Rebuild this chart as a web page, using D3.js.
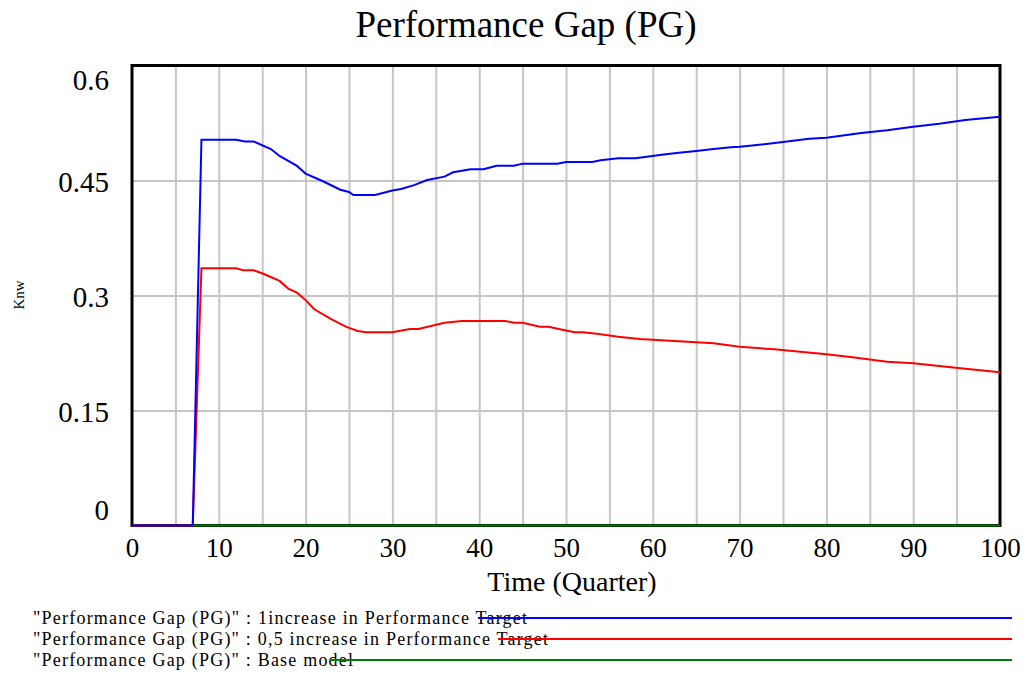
<!DOCTYPE html>
<html>
<head>
<meta charset="utf-8">
<script src="https://cdn.jsdelivr.net/npm/d3@7"></script>
<style>
  body { margin: 0; background: #fff; }
  text { font-family: "Liberation Serif", "Times New Roman", serif; fill: #000; }
</style>
</head>
<body>
<div id="chart"></div>
<script>

// size of the page
var w = 1026;
var h = 675;

// plot area
var plotLeft = 132, plotRight = 1000, plotTop = 65.5, plotBottom = 525.5;

// time values (quarters)
var blueTime = [0, 7, 8, 12, 13, 14, 16, 17, 19, 20, 22, 24, 25, 25.5, 28, 30, 31, 32.5, 34, 36,
  37, 39, 40.5, 42, 44, 45, 49, 50, 53, 54, 56, 58, 59.3, 61, 63, 65, 67, 69, 70, 72,
  75, 78, 80, 84, 87, 90, 93, 96, 100];
var blueValue = [0, 0, 0.503, 0.503, 0.501, 0.501, 0.491, 0.482, 0.469, 0.459, 0.449, 0.438, 0.435, 0.431, 0.431, 0.437, 0.439, 0.444, 0.4506, 0.455,
  0.4607, 0.4646, 0.4646, 0.4693, 0.4693, 0.472, 0.472, 0.474, 0.474, 0.4763, 0.479, 0.479, 0.481, 0.4837, 0.4863, 0.4885, 0.491, 0.4933, 0.494, 0.4963,
  0.5002, 0.5045, 0.5058, 0.512, 0.5154, 0.520, 0.524, 0.5289, 0.5332];

var redTime = [0, 7, 8, 12, 12.8, 14, 15.2, 17, 18, 19, 20, 21, 23, 24.7, 26, 27, 30, 32, 33, 36,
  38, 43, 44, 45, 47, 48, 49.7, 51, 52, 54, 56, 58.5, 61, 64, 67, 70, 74, 77, 80, 83,
  87, 90, 93, 96, 100];
var redValue = [0, 0, 0.3355, 0.3355, 0.333, 0.333, 0.328, 0.319, 0.309, 0.3037, 0.294, 0.282, 0.269, 0.259, 0.2537, 0.252, 0.252, 0.2563, 0.2563, 0.2645,
  0.2667, 0.2667, 0.2645, 0.2645, 0.2593, 0.2593, 0.255, 0.252, 0.252, 0.2494, 0.2463, 0.2433, 0.2415, 0.2398, 0.2376, 0.2332, 0.2298, 0.2267, 0.2233, 0.2194,
  0.2137, 0.2115, 0.208, 0.2045, 0.1998];

var greenTime = [0, 100];
var greenValue = [0, 0];

// tick labels
var xTicks = [0, 10, 20, 30, 40, 50, 60, 70, 80, 90, 100];
var yTicks = [0, 0.15, 0.3, 0.45, 0.6];
var yTickLabels = ["0", "0.15", "0.3", "0.45", "0.6"];
var xGrid = [5, 10, 15, 20, 25, 30, 35, 40, 45, 50, 55, 60, 65, 70, 75, 80, 85, 90, 95];
var yGrid = [0.15, 0.3, 0.45];

var legendLabels = [
  "\"Performance Gap (PG)\" : 1increase in Performance Target",
  "\"Performance Gap (PG)\" : 0,5 increase in Performance Target",
  "\"Performance Gap (PG)\" : Base model"
];
var seriesColors = ["#0000ff", "#ff0000", "#008000"];

// scales
var xScale = d3.scaleLinear().domain([0, 100]).range([plotLeft, plotRight]);
var yScale = d3.scaleLinear().domain([0, 0.6]).range([plotBottom, plotTop]);

var svg = d3.select("#chart").append("svg")
  .attr("width", w)
  .attr("height", h);

// gridlines
svg.append("g")
  .attr("transform", "translate(0," + plotBottom + ")")
  .call(d3.axisBottom(xScale).tickValues(xGrid).tickSize(-(plotBottom - plotTop)).tickFormat(""))
  .call(function(g) { g.select(".domain").remove(); })
  .selectAll("line")
  .attr("stroke", "#c6c6c6")
  .attr("stroke-width", 2);

svg.append("g")
  .attr("transform", "translate(" + plotLeft + ",0)")
  .call(d3.axisLeft(yScale).tickValues(yGrid).tickSize(-(plotRight - plotLeft)).tickFormat(""))
  .call(function(g) { g.select(".domain").remove(); })
  .selectAll("line")
  .attr("stroke", "#c6c6c6")
  .attr("stroke-width", 2);

// line generator
var line = d3.line()
  .x(function(d) { return xScale(d[0]); })
  .y(function(d) { return yScale(d[1]); });

var series = [
  d3.zip(greenTime, greenValue),
  d3.zip(redTime, redValue),
  d3.zip(blueTime, blueValue)
];
var lineColors = [seriesColors[2], seriesColors[1], seriesColors[0]];

// frame
svg.append("rect")
  .attr("x", plotLeft)
  .attr("y", plotTop)
  .attr("width", plotRight - plotLeft)
  .attr("height", plotBottom - plotTop)
  .attr("fill", "none")
  .attr("stroke", "#000")
  .attr("stroke-width", 3);

series.forEach(function(s, i) {
  svg.append("path")
    .datum(s)
    .attr("fill", "none")
    .attr("stroke", lineColors[i])
    .attr("stroke-width", 2)
    .attr("d", line);
});

// x axis labels
var xAxis = svg.append("g")
  .attr("transform", "translate(0," + plotBottom + ")")
  .call(d3.axisBottom(xScale).tickValues(xTicks).tickSize(0).tickPadding(12));
xAxis.select(".domain").remove();
xAxis.selectAll("text")
  .attr("font-size", "27px")
  .attr("font-family", "Liberation Serif, serif")
  .attr("fill", "#000");

// y axis labels, top and bottom pushed inward
var yAxis = svg.append("g")
  .attr("transform", "translate(" + plotLeft + ",0)")
  .call(d3.axisLeft(yScale).tickValues(yTicks).tickSize(0).tickPadding(23)
    .tickFormat(function(d, i) { return yTickLabels[i]; }));
yAxis.select(".domain").remove();
yAxis.selectAll("text")
  .attr("font-size", "29px")
  .attr("font-family", "Liberation Serif, serif")
  .attr("fill", "#000")
  .attr("dy", function(d) {
    if (d === 0.6) return "0.82em";
    if (d === 0) return "-0.2em";
    return "0.38em";
  });

// title
svg.append("text")
  .attr("x", 526)
  .attr("y", 37)
  .attr("text-anchor", "middle")
  .attr("font-size", "37px")
  .text("Performance Gap (PG)");

// x title
svg.append("text")
  .attr("x", 572)
  .attr("y", 591)
  .attr("text-anchor", "middle")
  .attr("font-size", "28px")
  .text("Time (Quarter)");

// y title
svg.append("text")
  .attr("transform", "translate(24,295) rotate(-90)")
  .attr("text-anchor", "middle")
  .attr("font-size", "15px")
  .text("Knw");

// legend
var legendY = [618, 639, 660];
var legendStart = [478, 498, 330];
var legendWidth = [494, 515, 320];

legendLabels.forEach(function(t, i) {
  svg.append("text")
    .attr("x", 33)
    .attr("y", legendY[i] + 6)
    .attr("font-size", "18px")
    .attr("textLength", legendWidth[i])
    .attr("lengthAdjust", "spacing")
    .text(t);

  svg.append("line")
    .attr("x1", legendStart[i])
    .attr("x2", 1012)
    .attr("y1", legendY[i])
    .attr("y2", legendY[i])
    .attr("stroke", seriesColors[i])
    .attr("stroke-width", 2);
});

</script>
</body>
</html>
